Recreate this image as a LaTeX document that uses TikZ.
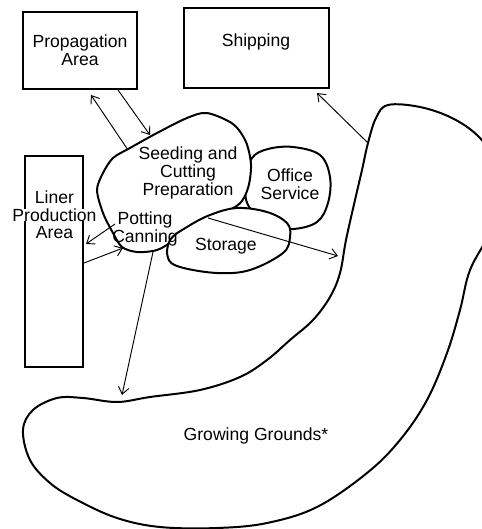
\documentclass[tikz,border=0pt]{standalone}
\usepackage{fontspec}
\setmainfont{Liberation Sans}
\usetikzlibrary{arrows.meta}
\tikzset{
  zone_txt/.style = {align=center, inner sep=0pt, text centered,
    font=\fontsize{15}{15}\selectfont},
  zone_box/.style = {zone_txt, rectangle, draw=black, line width=0.9pt},% rectangular area
  zone_blob/.style = {draw=black, line width=1.7pt, fill=white,
    line join=round},% hand drawn area
  flow/.style = {-{Straight Barb[length=6pt, width=9pt]}, line width=0.8pt}% plant flow
}

\begin{document}
\begin{tikzpicture}[x=0.03cm, y=-0.03cm]
	\clip (0,0) rectangle (482,529);
	\fill [white] (0,0) rectangle (482,529);
	% rectangular areas
	\node (prop) [zone_box, minimum width=3.42cm, minimum height=2.31cm] at (80,50.5) {Propagation\\Area};
	\node (ship) [zone_box, minimum width=4.35cm, minimum height=2.4cm] at (256.5,48) {};
	\node (ship_txt) [zone_txt] at (256,42) {Shipping};
	\node (liner) [zone_box, minimum width=1.74cm, minimum height=6.33cm] at (54,261.5) {};
	\node (liner_txt) [zone_txt] at (54.5,215) {Liner\\{\fboxsep=0pt\colorbox{white}{Production}}\\Area};
	% growing grounds
	\draw [zone_blob] plot [smooth cycle, tension=0.6] coordinates {
		(388,105) (420,107) (452,118) (478,136) (494,160) (500,195) (490,232)
		(470,270) (460,310) (447,353) (427,400) (400,440) (367,473) (317,507)
		(267,523) (217,528) (160,527) (117,518) (77,500) (50,483) (30,460)
		(23,430) (33,410) (57,398) (83,398) (117,402) (150,397) (200,390)
		(240,377) (267,360) (290,340) (313,320) (330,297) (340,273) (346,240)
		(355,200) (362,170) (368,143) (376,118)};
	% buildings
	\draw [zone_blob] plot [smooth cycle, tension=0.6] coordinates {
		(252,158) (268,149) (293,147) (320,155) (330,177) (328,203) (317,222)
		(293,229) (270,225) (248,205) (246,180)};
	\draw [zone_blob] plot [smooth cycle, tension=0.5] coordinates {
		(207,113) (233,124) (246,142) (251,165) (248,188) (238,205) (205,222)
		(175,240) (157,250) (137,252) (122,247) (113,233) (103,213) (97,190)
		(103,173) (113,158) (130,148) (157,133) (187,118)};
	\draw [zone_blob] plot [smooth cycle, tension=0.6] coordinates {
		(237,208) (267,212) (287,223) (290,237) (283,253) (250,270) (217,273)
		(180,267) (168,258) (170,240) (187,227) (210,215)};
	\node (seed_txt) [zone_txt] at (188,173) {Seeding and\\Cutting\\Preparation};
	\node (office_txt) [zone_txt] at (290,184) {Office\\Service};
	\node (pot_txt) [zone_txt] at (145,229) {Potting\\Canning};
	\node (store_txt) [zone_txt] at (226,246) {Storage};
	\node (grow_txt) [zone_txt] at (256,436) {Growing Grounds*};
	% arrow ends
	\coordinate (seed_up) at (128,150);
	\coordinate (prop_in) at (91,95);
	\coordinate (prop_out) at (118,90);
	\coordinate (seed_in) at (150,135);
	\coordinate (grow_up) at (368,143);
	\coordinate (ship_in) at (317,93);
	\coordinate (store_out) at (208,218);
	\coordinate (grow_in) at (338,256);
	\coordinate (pot_left) at (115,224);
	\coordinate (liner_in) at (86,244);
	\coordinate (liner_out) at (84,263);
	\coordinate (pot_in) at (123,248);
	\coordinate (pot_down) at (153,252);
	\coordinate (grow_top) at (122,395);
	% flows
	\draw [flow] (seed_up) -- (prop_in);
	\draw [flow] (prop_out) -- (seed_in);
	\draw [flow] (grow_up) -- (ship_in);
	\draw [flow] (store_out) -- (grow_in);
	\draw [flow] (pot_left) -- (liner_in);
	\draw [flow] (liner_out) -- (pot_in);
	\draw [flow] (pot_down) -- (grow_top);
\end{tikzpicture}
\end{document}
